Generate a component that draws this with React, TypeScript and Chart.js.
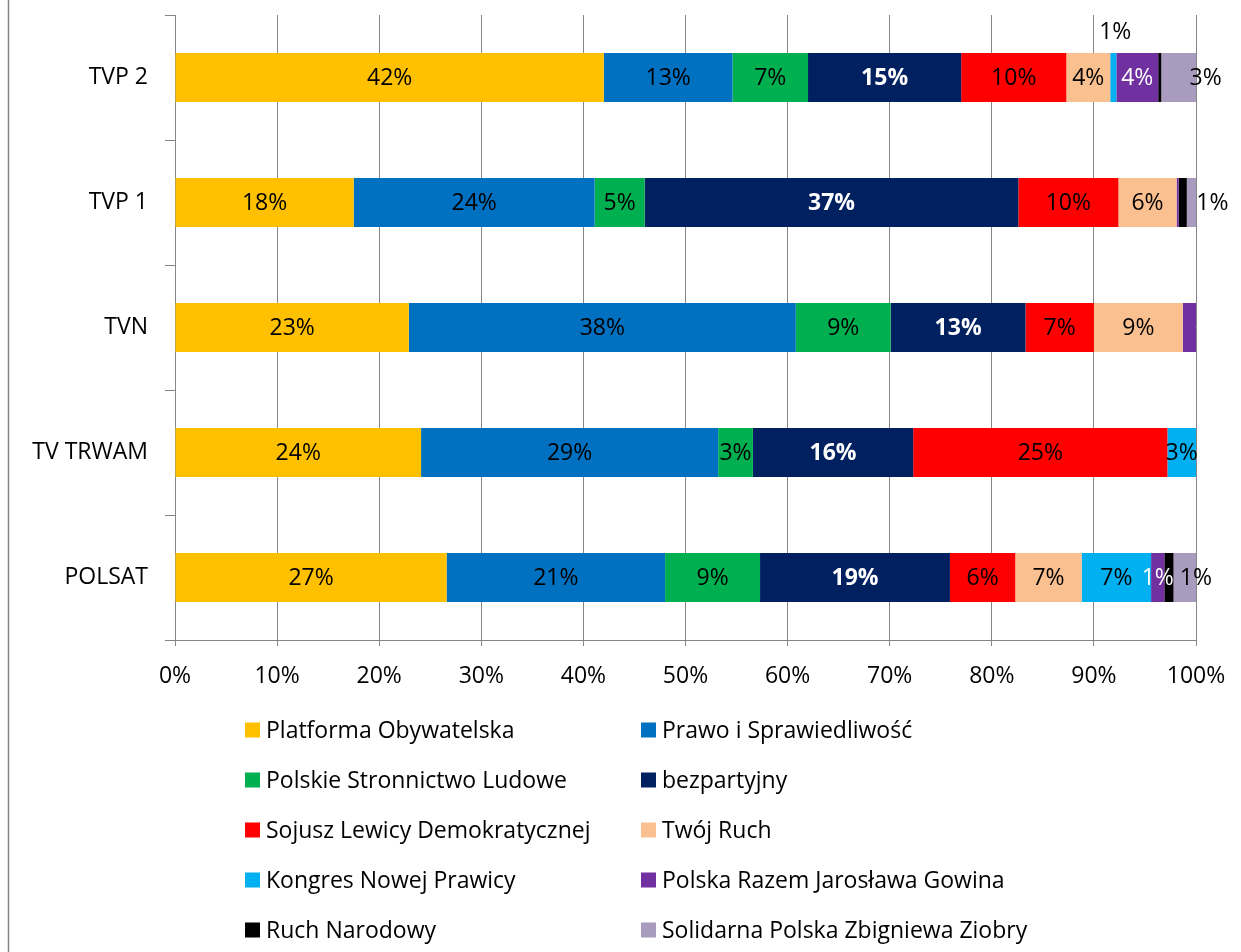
import React, { useEffect, useRef } from "react";
import { Chart, registerables } from "chart.js";

Chart.register(...registerables);

const categories = ["TVP 2", "TVP 1", "TVN", "TV TRWAM", "POLSAT"];
const seriesNames = [
  "Platforma Obywatelska",
  "Prawo i Sprawiedliwość",
  "Polskie Stronnictwo Ludowe",
  "bezpartyjny",
  "Sojusz Lewicy Demokratycznej",
  "Twój Ruch",
  "Kongres Nowej Prawicy",
  "Polska Razem Jarosława Gowina",
  "Ruch Narodowy",
  "Solidarna Polska Zbigniewa Ziobry",
];
const poValues = [42.0, 17.5, 22.9, 24.1, 26.6];
const pisValues = [12.6, 23.6, 37.9, 29.1, 21.4];
const pslValues = [7.4, 4.9, 9.3, 3.4, 9.3];
const bezpValues = [15.0, 36.6, 13.2, 15.7, 18.6];
const sldValues = [10.3, 9.8, 6.7, 24.9, 6.4];
const trValues = [4.3, 5.7, 8.7, 0, 6.5];
const knpValues = [0.6, 0, 0, 2.8, 6.8];
const prValues = [4.1, 0.2, 1.3, 0, 1.3];
const rnValues = [0.3, 0.8, 0, 0, 0.9];
const spValues = [3.4, 0.9, 0, 0, 2.2];
const xTicks = [0, 10, 20, 30, 40, 50, 60, 70, 80, 90, 100];

const allValues = [poValues, pisValues, pslValues, bezpValues, sldValues, trValues, knpValues, prValues, rnValues, spValues];
const colors = ["#FFC000", "#0070C0", "#00B050", "#002060", "#FF0000", "#FAC090", "#00B0F0", "#7030A0", "#000000", "#A89BBE"];

const FONT = "'Open Sans', sans-serif";
const FS = 23;
const GRID = "#868686";

// label placement tweaks (dataset-category)
const hiddenLabels = ["8-0", "7-1", "8-1", "7-2", "9-4"];
const labelShift: Record<string, [number, number]> = {
  "6-0": [2, -46],
  "9-0": [27, 0],
  "9-1": [21, 0],
  "8-4": [27, 0],
};

const decorPlugin = {
  id: "decor",
  afterDatasetsDraw(chart: any) {
    const ctx = chart.ctx;
    ctx.save();
    ctx.textAlign = "center";
    ctx.textBaseline = "middle";
    chart.data.datasets.forEach((ds: any, di: number) => {
      const meta = chart.getDatasetMeta(di);
      meta.data.forEach((el: any, ci: number) => {
        const v = ds.data[ci];
        if (!v) return;
        const key = `${di}-${ci}`;
        if (hiddenLabels.includes(key)) return;
        const [dx, dy] = labelShift[key] || [0, 0];
        const cx = (el.x + el.base) / 2 + dx;
        const cy = el.y + dy;
        const white = di === 3 || di === 7;
        ctx.fillStyle = white ? "#ffffff" : "#000000";
        ctx.font = `${di === 3 ? "bold " : ""}${FS}px ${FONT}`;
        ctx.fillText(`${Math.round(v)}%`, cx, cy + 1);
      });
    });
    ctx.restore();
  },
  afterDraw(chart: any) {
    const ctx = chart.ctx;
    ctx.save();
    ctx.strokeStyle = GRID;
    ctx.lineWidth = 1.5;
    ctx.beginPath();
    ctx.moveTo(8.5, 0);
    ctx.lineTo(8.5, chart.height);
    ctx.stroke();
    ctx.font = `${FS}px ${FONT}`;
    ctx.textAlign = "left";
    ctx.textBaseline = "middle";
    chart.data.datasets.forEach((ds: any, i: number) => {
      const col = i % 2;
      const row = Math.floor(i / 2);
      const x = col === 0 ? 245 : 641;
      const y = 730 + row * 50;
      ctx.fillStyle = ds.backgroundColor;
      ctx.fillRect(x, y - 7.5, 15, 15);
      ctx.fillStyle = "#000000";
      ctx.fillText(ds.label, x + 21, y + 1);
    });
    ctx.restore();
  },
};

export default function App() {
  const ref = useRef<HTMLCanvasElement>(null);
  useEffect(() => {
    if (!ref.current) return;
    const chart = new Chart(ref.current, {
      type: "bar",
      data: {
        labels: categories,
        datasets: seriesNames.map((name, i) => ({
          label: name,
          data: allValues[i],
          backgroundColor: colors[i],
          borderWidth: 0,
          barPercentage: 0.392,
          categoryPercentage: 1,
        })),
      },
      options: {
        indexAxis: "y",
        animation: false,
        responsive: false,
        layout: { padding: { left: 0, top: 15, right: 45, bottom: 252 } },
        plugins: { legend: { display: false }, tooltip: { enabled: false } },
        scales: {
          x: {
            stacked: true,
            min: 0,
            max: 100,
            afterFit: (s: any) => { s.height = 60; s.paddingRight = 0; s.paddingLeft = 0; },
            afterBuildTicks: (s: any) => { s.ticks = xTicks.map((v) => ({ value: v })); },
            ticks: {
              callback: (v: any) => `${v}%`,
              color: "#000000",
              font: { family: FONT, size: FS },
              padding: 17,
              maxRotation: 0,
            },
            grid: { color: GRID, lineWidth: 1, tickLength: 6 },
            border: { color: GRID, width: 1 },
          },
          y: {
            stacked: true,
            afterFit: (s: any) => { s.width = 175; s.paddingTop = 0; s.paddingBottom = 0; },
            ticks: {
              color: "#000000",
              font: { family: FONT, size: FS },
              padding: 17,
            },
            grid: { offset: true, drawOnChartArea: false, color: GRID, tickLength: 10 },
            border: { color: GRID, width: 1 },
          },
        },
      },
      plugins: [decorPlugin],
    });
    return () => chart.destroy();
  }, []);
  return (
    <div style={{ position: "fixed", left: 0, top: 0, width: 1241, height: 952, background: "#fff" }}>
      <canvas ref={ref} width={1241} height={952} style={{ display: "block" }} />
    </div>
  );
}
